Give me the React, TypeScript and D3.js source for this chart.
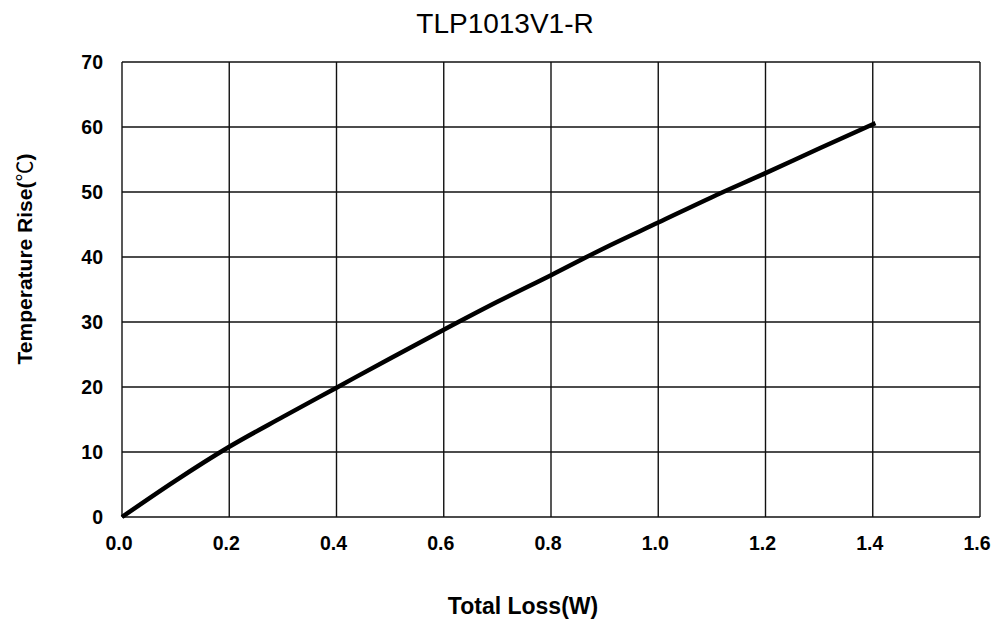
import * as d3 from 'd3';
import React, {useEffect, useRef} from 'react';

// readings
const lossW = [0, 0.1, 0.2, 0.3, 0.4, 0.5, 0.6, 0.7, 0.8, 0.9, 1.0, 1.1, 1.2, 1.3, 1.405];
const riseC = [0, 5.6, 10.8, 15.4, 19.9, 24.4, 28.8, 33.1, 37.2, 41.4, 45.3, 49.2, 52.9, 56.7, 60.6];

const xTicks = [0, 0.2, 0.4, 0.6, 0.8, 1.0, 1.2, 1.4, 1.6];
const yTicks = [0, 10, 20, 30, 40, 50, 60, 70];

const chartTitle = 'TLP1013V1-R';
const xTitle = 'Total Loss(W)';
const yTitle = 'Temperature Rise(';
const yUnit = '℃';

const App = () => {
  const svgRef = useRef<SVGSVGElement>(null);

  useEffect(() => {
    const svg = d3.select(svgRef.current);
    svg.selectAll('*').remove();

    const width = 993;
    const height = 624;
    const margin = {top: 62, right: 13, bottom: 107, left: 122};
    const font = '"Liberation Sans", Arial, sans-serif';

    const x = d3.scaleLinear().domain([0, 1.6]).range([margin.left, width - margin.right]);
    const y = d3.scaleLinear().domain([0, 70]).range([height - margin.bottom, margin.top]);

    // grid
    const grid = svg.append('g').attr('stroke', '#111').attr('stroke-width', 1.4);
    grid.selectAll('line.v')
      .data(xTicks)
      .enter()
      .append('line')
        .attr('x1', d => x(d)).attr('x2', d => x(d))
        .attr('y1', y(0)).attr('y2', y(70));
    grid.selectAll('line.h')
      .data(yTicks)
      .enter()
      .append('line')
        .attr('y1', d => y(d)).attr('y2', d => y(d))
        .attr('x1', x(0)).attr('x2', x(1.6));

    // tick labels
    svg.append('g')
      .selectAll('text')
      .data(xTicks)
      .enter()
      .append('text')
        .attr('x', d => x(d) - 3)
        .attr('y', 550)
        .attr('text-anchor', 'middle')
        .style('font-family', font)
        .style('font-weight', 'bold')
        .style('font-size', '19.5px')
        .text(d => d.toFixed(1));

    svg.append('g')
      .selectAll('text')
      .data(yTicks)
      .enter()
      .append('text')
        .attr('x', 103)
        .attr('y', d => y(d))
        .attr('dy', '0.35em')
        .attr('text-anchor', 'end')
        .style('font-family', font)
        .style('font-weight', 'bold')
        .style('font-size', '19.5px')
        .text(d => d);

    // curve
    const pts = lossW.map((v, i) => [v, riseC[i]] as [number, number]);
    const line = d3.line<[number, number]>()
      .x(d => x(d[0]))
      .y(d => y(d[1]))
      .curve(d3.curveMonotoneX);
    svg.append('path')
      .datum(pts)
      .attr('d', line)
      .attr('fill', 'none')
      .attr('stroke', '#000')
      .attr('stroke-width', 4.5);

    // titles
    svg.append('text')
      .attr('x', 505).attr('y', 33)
      .attr('text-anchor', 'middle')
      .style('font-family', font)
      .style('font-size', '28px')
      .text(chartTitle);

    svg.append('text')
      .attr('x', 523).attr('y', 614)
      .attr('text-anchor', 'middle')
      .style('font-family', font)
      .style('font-weight', 'bold')
      .style('font-size', '23px')
      .text(xTitle);

    const yt = svg.append('text')
      .attr('transform', 'translate(32,259) rotate(-90)')
      .attr('text-anchor', 'middle')
      .style('font-family', font)
      .style('font-weight', 'bold')
      .style('font-size', '21px');
    yt.append('tspan').text(yTitle);
    yt.append('tspan')
      .style('font-family', '"Noto Sans CJK JP", sans-serif')
      .style('font-weight', 'normal')
      .text(yUnit);
    yt.append('tspan').text(')');
  }, []);

  return (
    <svg ref={svgRef} width="993" height="624"
      style={{position: 'absolute', left: 0, top: 0, background: '#fff'}}></svg>
  );
};

export default App;
